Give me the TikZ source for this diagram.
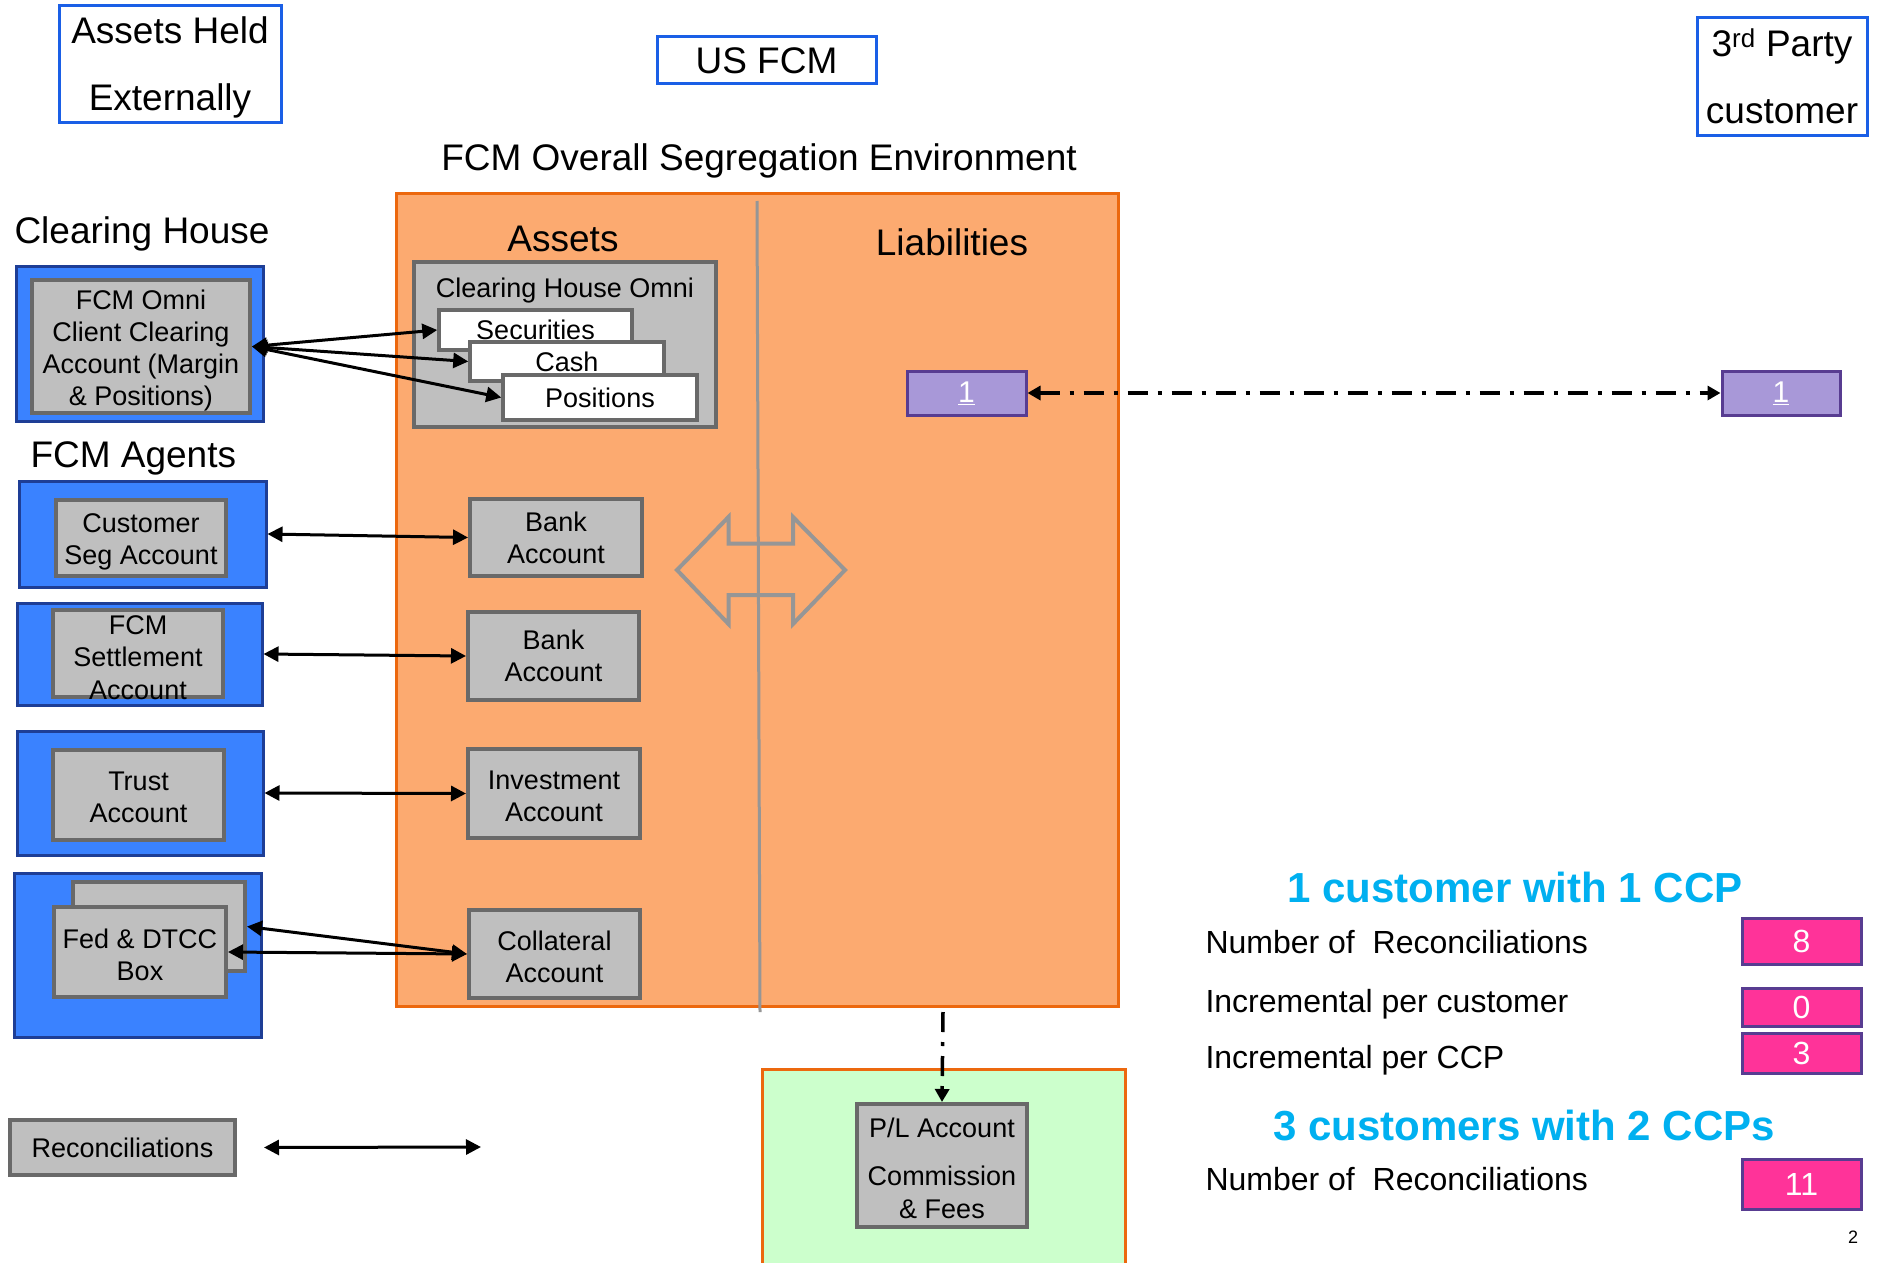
\documentclass[tikz,border=0pt]{standalone}
\usepackage{fontspec}
\setmainfont{Liberation Sans}
\usetikzlibrary{arrows.meta}

\definecolor{hdrblue}{RGB}{26,95,230}
\definecolor{agentfill}{RGB}{58,130,255}
\definecolor{agentedge}{RGB}{30,62,150}
\definecolor{acctfill}{RGB}{191,191,191}
\definecolor{acctedge}{RGB}{105,105,105}
\definecolor{segfill}{RGB}{252,170,112}
\definecolor{segedge}{RGB}{236,104,14}
\definecolor{plfill}{RGB}{204,255,204}
\definecolor{lavfill}{RGB}{168,152,216}
\definecolor{lavedge}{RGB}{88,60,145}
\definecolor{tallyfill}{RGB}{255,51,153}
\definecolor{ccpcyan}{RGB}{0,176,240}
\definecolor{divgray}{RGB}{150,150,150}

\newcommand{\fsz}[2]{\fontsize{#1pt}{#2pt}\selectfont}

\tikzset{
  sized/.style 2 args={minimum width=#1pt, minimum height=#2pt, inner sep=0pt},
  hdrbox/.style={draw=hdrblue, line width=3pt, fill=white, align=center, font=\fsz{37}{67}},
  agent/.style={draw=agentedge, line width=3pt, fill=agentfill},
  acct/.style={draw=acctedge, line width=4pt, fill=acctfill, align=center, font=\fsz{27}{32}},
  accttext/.style={align=center, font=\fsz{27}{32}, inner sep=0pt},
  part/.style={draw=acctedge, line width=3.5pt, fill=white, font=\fsz{27}{32}},
  heading/.style={font=\fsz{37}{44}},
  conn/.style={line width=3pt, {Triangle[length=15pt,width=15pt]}-{Triangle[length=15pt,width=15pt]}},
  dashconn/.style={line width=3.5pt, dash pattern=on 20pt off 10pt on 4pt off 10pt},
  lav/.style={draw=lavedge, line width=3pt, fill=lavfill, text=white, font=\fsz{30}{36}},
  tally/.style={draw=lavedge, line width=3pt, fill=tallyfill, text=white, font=\fsz{32}{36}},
  stat/.style={font=\fsz{32}{38}, anchor=base west},
  ccp/.style={font=\fsz{42}{50}\bfseries, text=ccpcyan},
}

\begin{document}
\begin{tikzpicture}[x=1pt, y=-1pt]
  \path[use as bounding box, fill=white] (0,0) rectangle (1877,1263);

  % header boxes
  \node[hdrbox, sized={222}{116}] (ext) at (170,64) {};
  \node[align=center, font=\fsz{37}{67}, inner sep=0pt] (extText) at (170,67) {Assets Held\\Externally};
  \node[hdrbox, sized={219}{47}] (usfcm) at (766.5,60.5) {US FCM};
  \node[hdrbox, sized={170}{117}] (third) at (1782,76.5) {3\textsuperscript{rd} Party\\customer};

  \node[heading, anchor=base] (title) at (759,170) {FCM Overall Segregation Environment};

  % segregation environment
  \node[draw=segedge, line width=3pt, fill=segfill, sized={722}{813}] (segenv) at (757,599.5) {};
  \draw[divgray, line width=3pt] (757,201) -- (760,1012);
  \draw[divgray, line width=4pt, line join=miter]
    (677,570) -- (728.5,517) -- (728.5,543.5) -- (793,543.5) -- (793,517) -- (845,570)
    -- (793,624) -- (793,595) -- (728.5,595) -- (728.5,624) -- cycle;

  \node[heading, anchor=base] (assets) at (563,251) {Assets};
  \node[heading, anchor=base] (liab) at (952,255) {Liabilities};

  % clearing house omnibus holdings
  \node[acct, sized={302}{165}] (chomni) at (565,344.5) {};
  \node[font=\fsz{27}{32}, anchor=base] (chomnitext) at (565,297) {Clearing House Omni};
  \node[part, sized={193}{40}] (sec) at (535.5,330) {Securities};
  \node[part, sized={194}{39}] (cash) at (567,361.5) {Cash};
  \node[part, sized={194}{45}] (pos) at (600,397.5) {Positions};

  % external side
  \node[heading, anchor=base west] (chlabel) at (11,243) {Clearing House};
  \node[agent, sized={247}{155}] (omniBlue) at (139.5,343.5) {};
  \node[acct, sized={218}{133}] (omniIn) at (141,346.5) {};
  \node[accttext] (omniText) at (141,350.5) {FCM Omni\\Client Clearing\\Account (Margin\\\& Positions)};

  \node[heading, anchor=base west] (aglabel) at (27,467) {FCM Agents};

  \node[agent, sized={247}{106}] (custBlue) at (142.5,534) {};
  \node[acct, sized={170}{76}] (custIn) at (141,538) {};
  \node[accttext] (custText) at (141,542) {Customer\\Seg Account};

  \node[agent, sized={245}{102}] (setBlue) at (139.5,654) {};
  \node[acct, sized={170}{87}] (setIn) at (138,653.5) {};
  \node[accttext, font=\fsz{27}{32.5}] (setText) at (138,657.5) {FCM\\Settlement\\Account};

  \node[agent, sized={246}{124}] (trustBlue) at (140,793) {};
  \node[acct, sized={171}{90}] (trustIn) at (138.5,795) {};
  \node[accttext] (trustText) at (138.5,797) {Trust\\Account};

  \node[agent, sized={247}{164}] (fedBlue) at (137.5,955) {};
  \node[acct, sized={172}{89}] (fedBack) at (159,926.5) {};
  \node[acct, sized={172}{90}] (fedIn) at (140,952) {};
  \node[accttext] (fedText) at (140,955) {Fed \& DTCC\\Box};

  % FCM asset accounts
  \node[acct, sized={172}{77}] (bank1) at (556,537.5) {Bank\\Account};
  \node[acct, sized={171}{88}] (bank2) at (553.5,656) {Bank\\Account};
  \node[acct, sized={172}{89}] (invest) at (554,793.5) {};
  \node[accttext] (investText) at (554,796) {Investment\\Account};
  \node[acct, sized={171}{88}] (coll) at (554.5,954) {};
  \node[accttext] (collText) at (554.5,956.5) {Collateral\\Account};

  % links between external and internal accounts
  \draw[conn] (omniIn.east) -- (sec.west);
  \draw[conn] (omniIn.east) -- (cash.west);
  \draw[conn] (omniIn.east) -- (pos.west);
  \draw[conn] (custBlue.east) -- (bank1.west);
  \draw[conn] (setBlue.east) -- (bank2.west);
  \draw[conn] (trustBlue.east) -- (invest.west);
  \draw[conn] (fedBack.east) -- (coll.west);
  \draw[conn] (fedIn.east) -- (coll.west);

  % liabilities to third party customer
  \node[lav, sized={119}{44}] (liab1) at (966.5,393) {\underline{1}};
  \node[lav, sized={118}{44}] (tp1) at (1781,393) {\underline{1}};
  \draw[dashconn, {Triangle[length=13pt,width=14pt]}-{Triangle[length=13pt,width=14pt]}] (liab1.east) -- (tp1.west);

  % P/L area
  \fill[plfill] (762,1069) rectangle (1125,1263);
  \draw[segedge, line width=3pt] (762,1263) -- (762,1069) -- (1125,1069) -- (1125,1263);
  \node[acct, sized={170}{123}] (pl) at (942,1165.5) {};
  \node[accttext, font=\fsz{27}{33}] (plText) at (942,1168) {P/L Account\\[15pt]Commission\\\& Fees};
  \coordinate (plsrc) at (943,1012);
  \draw[dashconn, -{Triangle[length=13pt,width=14pt]}] (plsrc) -- (pl.north);

  % legend
  \node[acct, sized={225}{55}] (recon) at (122.5,1147.5) {Reconciliations};
  \coordinate (reconend) at (481,1147);
  \draw[conn] ([xshift=27pt]recon.east) -- (reconend);

  % reconciliation counts
  \node[ccp] (h1) at (1515,887) {1 customer with 1 CCP};
  \node[stat] (s1) at (1202,953) {Number of\ \ Reconciliations};
  \node[stat] (s2) at (1202,1012) {Incremental per customer};
  \node[stat] (s3) at (1202,1068) {Incremental per CCP};
  \node[ccp] (h2) at (1524,1126) {3 customers with 2 CCPs};
  \node[stat] (s4) at (1202,1190) {Number of\ \ Reconciliations};

  \node[tally, sized={119}{46}] (n8) at (1801.5,941) {8};
  \node[tally, sized={119}{38}] (n0) at (1801.5,1007) {0};
  \node[tally, sized={119}{40}] (n3) at (1801.5,1053) {3};
  \node[tally, sized={119}{50}] (n11) at (1801.5,1184) {11};

  \node[font=\fsz{18}{22}] (pagenum) at (1853,1237) {2};
\end{tikzpicture}
\end{document}
